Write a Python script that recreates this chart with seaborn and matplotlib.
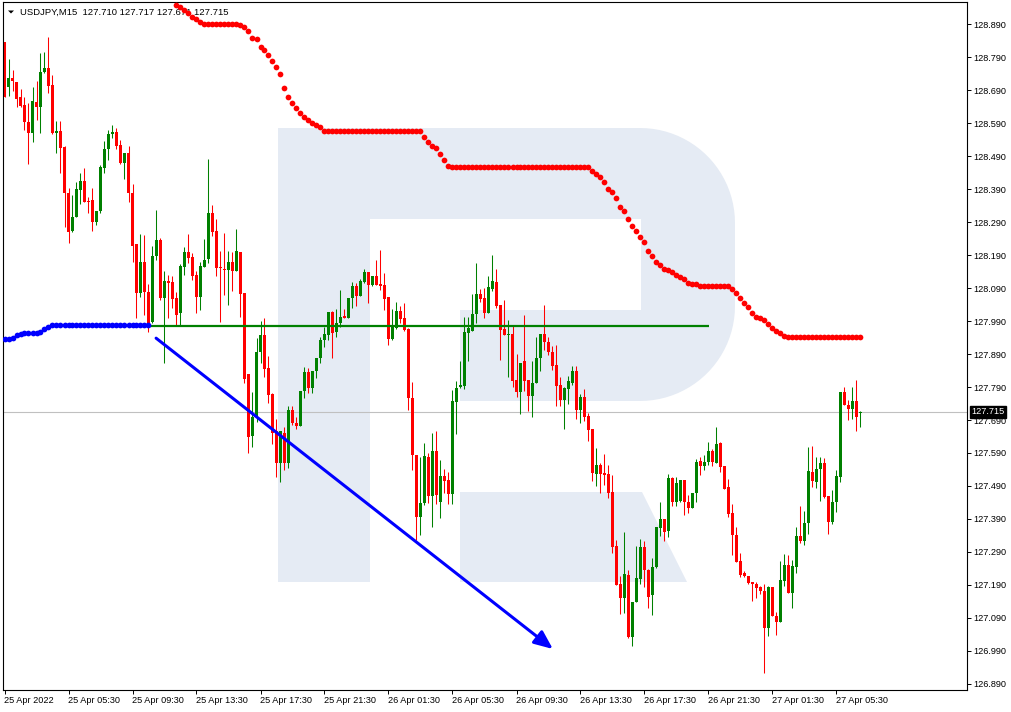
import matplotlib
matplotlib.use("Agg")
import numpy as np
import pandas as pd
import matplotlib.pyplot as plt
import matplotlib.transforms as mtransforms
from matplotlib.patches import Polygon
import seaborn as sns

# ============================================================
# DATA  (USDJPY, M15, first bar 25 Apr 2022 01:30)
# ============================================================
bar_start = "2022-04-25 01:30"

opens = [
    128.834, 128.700, 128.726, 128.715, 128.668, 128.645, 128.593, 128.561, 128.654, 128.637,
    128.744, 128.756, 128.705, 128.561, 128.566, 128.518, 128.377, 128.264, 128.305, 128.387,
    128.415, 128.354, 128.357, 128.291, 128.322, 128.455, 128.511, 128.556, 128.563, 128.523,
    128.470, 128.498, 128.377, 128.224, 128.076, 128.169, 128.079, 127.988, 128.187, 128.236,
    128.059, 128.110, 128.109, 128.059, 128.015, 128.155, 128.198, 128.183, 128.130, 128.064,
    128.153, 128.177, 128.317, 128.264, 128.154, 128.149, 128.145, 128.169, 128.143, 128.199,
    128.074, 127.829, 127.643, 127.699, 127.897, 127.948, 127.847, 127.769, 127.658, 127.561,
    127.652, 127.559, 127.721, 127.682, 127.673, 127.778, 127.835, 127.786, 127.837, 127.877,
    127.933, 127.948, 128.018, 127.958, 127.985, 128.005, 128.000, 128.059, 128.096, 128.067,
    128.109, 128.140, 128.099, 128.127, 128.102, 128.099, 128.064, 127.936, 127.968, 128.021,
    127.999, 127.966, 127.756, 127.584, 127.397, 127.438, 127.577, 127.460, 127.597, 127.443,
    127.521, 127.508, 127.466, 127.746, 127.789, 127.793, 127.955, 127.961, 128.011, 128.072,
    128.059, 128.015, 128.086, 128.109, 128.039, 127.967, 127.948, 127.951, 127.811, 127.776,
    127.869, 127.811, 127.763, 127.803, 127.877, 127.950, 127.927, 127.897, 127.857, 127.796,
    127.751, 127.784, 127.803, 127.839, 127.721, 127.759, 127.702, 127.663, 127.527, 127.554,
    127.529, 127.527, 127.471, 127.308, 127.193, 127.152, 127.221, 127.032, 127.137, 127.208,
    127.305, 127.234, 127.160, 127.244, 127.362, 127.389, 127.355, 127.514, 127.440, 127.445,
    127.508, 127.440, 127.424, 127.468, 127.566, 127.551, 127.562, 127.596, 127.561, 127.620,
    127.551, 127.488, 127.409, 127.342, 127.263, 127.227, 127.218, 127.200, 127.193, 127.185,
    127.173, 127.061, 127.185, 127.097, 127.079, 127.203, 127.251, 127.167, 127.246, 127.339,
    127.322, 127.377, 127.531, 127.503, 127.541, 127.559, 127.460, 127.382, 127.443, 127.518,
    127.774, 127.736, 127.723, 127.748, 127.710,
]
highs = [
    128.837, 128.783, 128.751, 128.715, 128.692, 128.670, 128.650, 128.700, 128.716, 128.801,
    128.805, 128.850, 128.736, 128.596, 128.596, 128.521, 128.392, 128.372, 128.411, 128.438,
    128.453, 128.367, 128.392, 128.322, 128.462, 128.536, 128.569, 128.583, 128.574, 128.537,
    128.498, 128.521, 128.405, 128.224, 128.254, 128.251, 128.102, 128.218, 128.327, 128.241,
    128.142, 128.130, 128.125, 128.079, 128.163, 128.214, 128.254, 128.195, 128.143, 128.170,
    128.239, 128.481, 128.342, 128.299, 128.202, 128.256, 128.202, 128.200, 128.268, 128.199,
    128.074, 127.829, 127.774, 127.939, 127.990, 127.998, 127.884, 127.773, 127.692, 127.657,
    127.668, 127.733, 127.733, 127.700, 127.778, 127.852, 127.847, 127.839, 127.877, 127.943,
    127.971, 128.018, 128.021, 128.026, 128.084, 128.027, 128.061, 128.109, 128.104, 128.117,
    128.147, 128.140, 128.127, 128.175, 128.206, 128.135, 128.064, 128.026, 128.049, 128.034,
    128.046, 127.968, 127.806, 127.584, 127.579, 127.620, 127.589, 127.652, 127.657, 127.569,
    127.541, 127.531, 127.781, 127.809, 127.870, 128.003, 128.003, 128.072, 128.167, 128.087,
    128.091, 128.125, 128.190, 128.148, 128.039, 128.054, 127.994, 127.978, 127.890, 127.864,
    128.008, 127.811, 127.870, 127.943, 127.950, 128.039, 127.943, 127.915, 127.918, 127.821,
    127.791, 127.824, 127.854, 127.854, 127.769, 127.783, 127.711, 127.663, 127.605, 127.559,
    127.587, 127.554, 127.524, 127.327, 127.218, 127.352, 127.236, 127.137, 127.308, 127.329,
    127.322, 127.238, 127.271, 127.365, 127.443, 127.389, 127.527, 127.518, 127.518, 127.508,
    127.508, 127.463, 127.468, 127.572, 127.577, 127.585, 127.622, 127.601, 127.670, 127.623,
    127.551, 127.511, 127.436, 127.367, 127.286, 127.231, 127.218, 127.200, 127.200, 127.187,
    127.193, 127.187, 127.185, 127.109, 127.263, 127.284, 127.281, 127.266, 127.367, 127.430,
    127.415, 127.609, 127.611, 127.579, 127.579, 127.574, 127.460, 127.478, 127.537, 127.774,
    127.791, 127.751, 127.791, 127.811, 127.717,
]
lows = [
    128.668, 128.672, 128.688, 128.640, 128.640, 128.569, 128.466, 128.531, 128.599, 128.559,
    128.741, 128.682, 128.557, 128.498, 128.440, 128.274, 128.226, 128.261, 128.305, 128.344,
    128.352, 128.317, 128.264, 128.281, 128.318, 128.438, 128.478, 128.546, 128.511, 128.466,
    128.420, 128.352, 128.170, 127.998, 128.064, 128.008, 127.958, 127.983, 128.175, 128.054,
    127.864, 127.998, 128.029, 127.975, 127.978, 128.130, 128.167, 128.115, 128.015, 128.024,
    128.153, 128.167, 128.248, 128.127, 127.988, 128.069, 128.039, 128.082, 128.143, 128.003,
    127.802, 127.591, 127.609, 127.685, 127.864, 127.820, 127.741, 127.618, 127.517, 127.503,
    127.539, 127.544, 127.675, 127.662, 127.673, 127.756, 127.773, 127.771, 127.817, 127.862,
    127.912, 127.933, 127.877, 127.941, 127.971, 127.998, 128.000, 128.029, 128.034, 128.066,
    128.106, 128.044, 128.096, 128.099, 128.084, 128.024, 127.918, 127.933, 127.965, 127.983,
    127.961, 127.721, 127.539, 127.327, 127.342, 127.433, 127.438, 127.367, 127.436, 127.392,
    127.468, 127.436, 127.436, 127.648, 127.786, 127.783, 127.870, 127.961, 127.985, 128.049,
    127.998, 128.015, 128.082, 128.029, 127.872, 127.948, 127.821, 127.791, 127.761, 127.708,
    127.779, 127.718, 127.699, 127.803, 127.837, 127.902, 127.887, 127.842, 127.731, 127.733,
    127.663, 127.739, 127.796, 127.692, 127.682, 127.688, 127.625, 127.506, 127.490, 127.468,
    127.493, 127.453, 127.288, 127.190, 127.102, 127.104, 127.029, 127.005, 127.137, 127.193,
    127.185, 127.120, 127.099, 127.241, 127.339, 127.324, 127.335, 127.430, 127.428, 127.440,
    127.402, 127.409, 127.424, 127.443, 127.524, 127.539, 127.554, 127.551, 127.561, 127.531,
    127.482, 127.397, 127.281, 127.261, 127.215, 127.215, 127.193, 127.143, 127.152, 127.163,
    126.923, 127.034, 127.097, 127.037, 127.079, 127.187, 127.165, 127.121, 127.226, 127.318,
    127.312, 127.345, 127.488, 127.483, 127.446, 127.453, 127.344, 127.375, 127.412, 127.503,
    127.734, 127.690, 127.692, 127.658, 127.670,
]
closes = [
    128.668, 128.726, 128.716, 128.663, 128.642, 128.594, 128.561, 128.657, 128.637, 128.744,
    128.756, 128.703, 128.561, 128.566, 128.515, 128.377, 128.261, 128.305, 128.389, 128.415,
    128.352, 128.352, 128.291, 128.322, 128.456, 128.511, 128.557, 128.563, 128.521, 128.468,
    128.498, 128.377, 128.218, 128.076, 128.169, 128.079, 127.968, 128.187, 128.236, 128.059,
    128.111, 128.104, 128.057, 128.008, 128.157, 128.198, 128.182, 128.127, 128.064, 128.157,
    128.175, 128.317, 128.261, 128.152, 128.151, 128.146, 128.169, 128.143, 128.202, 128.072,
    127.815, 127.640, 127.700, 127.895, 127.948, 127.845, 127.766, 127.650, 127.561, 127.657,
    127.561, 127.721, 127.682, 127.672, 127.778, 127.835, 127.786, 127.839, 127.877, 127.933,
    127.950, 128.018, 127.953, 127.985, 128.003, 128.000, 128.061, 128.096, 128.067, 128.112,
    128.140, 128.099, 128.127, 128.099, 128.096, 128.056, 127.936, 127.971, 128.021, 127.996,
    127.963, 127.756, 127.584, 127.397, 127.438, 127.581, 127.460, 127.597, 127.463, 127.521,
    127.506, 127.466, 127.748, 127.786, 127.796, 127.958, 127.968, 128.012, 128.072, 128.058,
    128.015, 128.094, 128.111, 128.036, 127.963, 127.948, 127.951, 127.809, 127.776, 127.862,
    127.809, 127.763, 127.801, 127.877, 127.950, 127.927, 127.897, 127.854, 127.794, 127.751,
    127.788, 127.808, 127.837, 127.721, 127.759, 127.700, 127.660, 127.529, 127.554, 127.526,
    127.524, 127.470, 127.306, 127.190, 127.152, 127.224, 127.032, 127.137, 127.211, 127.305,
    127.234, 127.155, 127.244, 127.365, 127.389, 127.352, 127.514, 127.440, 127.500, 127.508,
    127.440, 127.424, 127.468, 127.562, 127.551, 127.562, 127.596, 127.564, 127.618, 127.549,
    127.482, 127.405, 127.340, 127.261, 127.221, 127.218, 127.195, 127.194, 127.182, 127.172,
    127.061, 127.185, 127.097, 127.079, 127.205, 127.251, 127.167, 127.248, 127.339, 127.322,
    127.377, 127.534, 127.505, 127.541, 127.559, 127.458, 127.382, 127.443, 127.521, 127.774,
    127.734, 127.723, 127.748, 127.700, 127.715,
]

# trailing stop dots above price (red), first visible at bar 43
upper_start = 43
upper_stop = [
    128.948, 128.941, 128.931, 128.923, 128.912, 128.905, 128.896,
    128.890, 128.890, 128.890, 128.890, 128.890, 128.890, 128.890, 128.890, 128.890,
    128.887, 128.882, 128.869, 128.849, 128.845, 128.821, 128.811, 128.796, 128.779, 128.761, 128.739,
    128.697, 128.670, 128.652, 128.634, 128.621, 128.609, 128.599, 128.591, 128.584, 128.579, 128.566,
    128.565, 128.565, 128.565, 128.565, 128.565, 128.565, 128.565, 128.565, 128.565, 128.565, 128.565, 128.565,
    128.565, 128.565, 128.565, 128.565, 128.565, 128.565, 128.565, 128.565, 128.565, 128.565, 128.565, 128.565,
    128.549, 128.531, 128.521, 128.515, 128.496, 128.478, 128.461,
    128.458, 128.458, 128.458, 128.458, 128.458, 128.458, 128.458, 128.458, 128.458, 128.458, 128.458, 128.458,
    128.458, 128.458, 128.458, 128.458, 128.458, 128.458, 128.458, 128.458, 128.458, 128.458, 128.458, 128.458,
    128.458, 128.458, 128.458, 128.458, 128.458, 128.458, 128.458, 128.458, 128.458, 128.458,
    128.456, 128.446, 128.435, 128.426, 128.412, 128.390, 128.382, 128.364, 128.334, 128.322,
    128.299, 128.279, 128.264, 128.246, 128.228, 128.203, 128.187, 128.168, 128.160, 128.148,
    128.145, 128.137, 128.130, 128.123, 128.117, 128.106, 128.102, 128.101, 128.097,
    128.096, 128.096, 128.096, 128.096, 128.096, 128.096, 128.096,
    128.087, 128.076, 128.061, 128.044, 128.031, 128.015, 128.003, 128.000, 127.993, 127.981,
    127.968, 127.960, 127.955, 127.945,
    127.943, 127.943, 127.943, 127.943, 127.943, 127.943, 127.943, 127.943, 127.943, 127.943,
    127.943, 127.943, 127.943, 127.943, 127.943, 127.943, 127.943, 127.943, 127.943,
]

# trailing stop dots below price (blue), bars 0..36
lower_stop = [
    127.936, 127.936, 127.938, 127.948, 127.952, 127.953, 127.953, 127.953, 127.955, 127.957,
    127.965, 127.972, 127.977, 127.977, 127.977, 127.977, 127.977, 127.977, 127.977, 127.977,
    127.977, 127.977, 127.977, 127.977, 127.977, 127.977, 127.977, 127.977, 127.977, 127.977,
    127.977, 127.977, 127.977, 127.977, 127.977, 127.977, 127.977,
]

# hand drawn objects (bar index, price)
level_price = 127.976
level_bars = [35.55, 176.05]
trend_start = (37.9, 127.938)
trend_end = (137.1, 126.996)

bid_price = 127.715
header = "USDJPY,M15  127.710 127.717 127.671 127.715"

tick_times = [
    "2022-04-25 01:30", "2022-04-25 05:30", "2022-04-25 09:30", "2022-04-25 13:30",
    "2022-04-25 17:30", "2022-04-25 21:30", "2022-04-26 01:30", "2022-04-26 05:30",
    "2022-04-26 09:30", "2022-04-26 13:30", "2022-04-26 17:30", "2022-04-26 21:30",
    "2022-04-27 01:30", "2022-04-27 05:30",
]
tick_labels = [
    "25 Apr 2022", "25 Apr 05:30", "25 Apr 09:30", "25 Apr 13:30",
    "25 Apr 17:30", "25 Apr 21:30", "26 Apr 01:30", "26 Apr 05:30",
    "26 Apr 09:30", "26 Apr 13:30", "26 Apr 17:30", "26 Apr 21:30",
    "27 Apr 01:30", "27 Apr 05:30",
]
price_ticks = [126.890, 126.990, 127.090, 127.190, 127.290, 127.390, 127.490, 127.590,
               127.690, 127.790, 127.890, 127.990, 128.090, 128.190, 128.290, 128.390,
               128.490, 128.590, 128.690, 128.790, 128.890]

# ============================================================
# FIGURE
# ============================================================
sns.set_style("white")
plt.rcParams["font.family"] = ["Liberation Sans", "DejaVu Sans"]

W, H = 1012, 712
UP, DOWN = "#008000", "#ff0000"

fig = plt.figure(figsize=(W / 100, H / 100), dpi=100)
ax = fig.add_axes([3 / W, 22 / H, 964 / W, 688 / H])
ax.set_xlim(-0.375, 240.625)
ax.set_ylim(126.8718, 128.9567)

n = len(closes)
times = pd.date_range(bar_start, periods=n, freq="15min")
df = pd.DataFrame({"x": np.arange(n), "open": opens, "high": highs,
                   "low": lows, "close": closes})

# --- watermark logo (image pixel coordinates, y down) ---
img_px = mtransforms.Affine2D().scale(1, -1).translate(0, H)
t = np.linspace(0, np.pi / 2, 24)
bowl = ([(370, 128)]
        + list(zip(640 + 95 * np.sin(t), 223 - 95 * np.cos(t)))
        + list(zip(640 + 95 * np.cos(t), 306 + 95 * np.sin(t)))
        + [(460, 401), (460, 310), (641, 310), (641, 219), (370, 219)])
stem = [(278, 128), (370, 128), (370, 582), (278, 582)]
leg = [(460, 492), (642, 492), (687, 582), (460, 582)]
for shape in (stem, bowl, leg):
    ax.add_patch(Polygon(shape, closed=True, facecolor="#e5ebf4", edgecolor="none",
                         transform=img_px, zorder=0))

# current bid line
ax.axhline(bid_price, color="#c0c0c0", lw=0.8, zorder=1)

# --- candles ---
colors = np.where(df["close"] >= df["open"], UP, DOWN)
ax.vlines(df["x"], df["low"], df["high"], colors=colors, linewidth=0.75, zorder=2)
body_lo = np.minimum(df["open"], df["close"])
body_h = np.maximum((df["close"] - df["open"]).abs(), 0.003)
ax.bar(df["x"], body_h, bottom=body_lo, width=0.75, color=colors, linewidth=0, zorder=2)

# --- trailing stop dots ---
sns.scatterplot(x=np.arange(upper_start, upper_start + len(upper_stop)), y=upper_stop,
                color="#ff0000", s=17, linewidth=0, ax=ax, zorder=4, legend=False)
sns.scatterplot(x=np.arange(len(lower_stop)), y=lower_stop,
                color="#0000ff", s=17, linewidth=0, ax=ax, zorder=4, legend=False)

# --- horizontal level and trend arrow ---
ax.plot(level_bars, [level_price, level_price], color=UP, lw=1.6, zorder=3,
        solid_capstyle="butt")
ax.annotate("", xy=trend_end, xytext=trend_start, zorder=5,
            arrowprops=dict(arrowstyle="-|>,head_length=0.7,head_width=0.3",
                            mutation_scale=16, color="#0000ff", lw=2.2,
                            shrinkA=0, shrinkB=0))

# --- header ---
ax.add_patch(Polygon([(8, 10.5), (14, 10.5), (11, 13.5)], closed=True,
                     facecolor="black", edgecolor="none", transform=img_px, zorder=1))
ax.text(16.5 / 964, 1 - 10 / 688, header, transform=ax.transAxes, fontsize=6.8,
        va="center", ha="left", color="black", zorder=1)

# --- axes ---
ax.yaxis.tick_right()
ax.set_yticks(price_ticks)
ax.set_yticklabels([f"{p:.3f}" for p in price_ticks])
ax.set_xticks(times.get_indexer(pd.to_datetime(tick_times)))
ax.set_xticklabels(tick_labels, ha="left")
ax.tick_params(axis="both", direction="out", length=3, width=0.7, labelsize=6.6,
               colors="black", bottom=True, left=False, right=True)
ax.tick_params(axis="y", pad=1.5)
ax.tick_params(axis="x", pad=1.5)
for sp in ax.spines.values():
    sp.set_color("black")
    sp.set_linewidth(0.8)

# price tag on the axis
tag_tr = mtransforms.blended_transform_factory(ax.transAxes, ax.transData)
ax.text(1 + 4.5 / 964, bid_price, f"{bid_price:.3f}", transform=tag_tr, fontsize=6.6,
        color="white", va="center", ha="left", zorder=6, clip_on=False,
        bbox=dict(boxstyle="square,pad=0.18", facecolor="black", edgecolor="black"))

fig.savefig("out.png", dpi=100, facecolor="white")
